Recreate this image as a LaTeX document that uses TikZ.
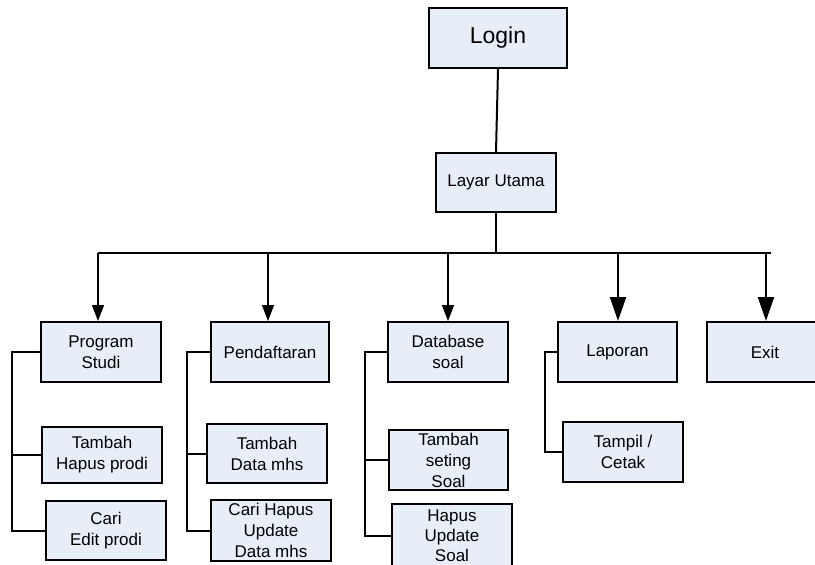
\documentclass[tikz,border=0pt]{standalone}
\usepackage{fontspec}
\setmainfont{Liberation Sans}
\usetikzlibrary{arrows.meta}
\definecolor{boxfill}{RGB}{232,238,248}
\tikzset{
  box/.style={draw=black, line width=2pt, fill=boxfill, inner sep=0pt, align=center,
    font=\fontsize{17}{21}\selectfont},
  conn/.style={line width=2pt},
  thinarrow/.style={line width=1.4pt, -{Triangle[width=12pt,length=16pt]}},
  bigarrow/.style={line width=2pt, -{Triangle[width=16pt,length=24pt]}}
}
\begin{document}
\begin{tikzpicture}[x=1pt,y=-1pt]
\useasboundingbox (0,0) rectangle (815,565);
% top
\node[box, minimum width=138pt, minimum height=60pt, font=\fontsize{23}{27}\selectfont] (login) at (498,38) {Login};
\node[box, minimum width=120pt, minimum height=59pt] (layar) at (496,182.5) {Layar Utama};
% level 1
\node[box, minimum width=120pt, minimum height=60pt] (prog) at (101,352) {Program\\Studi};
\node[box, minimum width=118pt, minimum height=60pt] (pend) at (270,352) {Pendaftaran};
\node[box, minimum width=120pt, minimum height=60pt] (db) at (448,352) {Database\\soal};
\node[box, minimum width=119pt, minimum height=60pt] (lap) at (617.5,352) {Laporan};
\node[box, minimum width=116pt, minimum height=60pt] (exit) at (765,352) {Exit};
% level 2
\node[box, minimum width=120pt, minimum height=56pt] (tp) at (102,455) {Tambah\\Hapus prodi};
\node[box, minimum width=120pt, minimum height=59pt] (cep) at (106,530.5) {Cari\\Edit prodi};
\node[box, minimum width=120pt, minimum height=59pt] (tdm) at (267,453.5) {Tambah\\Data mhs};
\node[box, minimum width=120pt, minimum height=61pt] (chu) at (271,530.5) {Cari Hapus\\Update\\Data mhs};
\node[box, minimum width=119pt, minimum height=60pt] (tss) at (448.5,460) {Tambah\\seting\\Soal};
\node[box, minimum width=120pt, minimum height=64pt, font=\fontsize{17}{20}\selectfont] (hus) at (452,536) {Hapus\\Update\\Soal};
\node[box, minimum width=120pt, minimum height=60pt] (tc) at (623,452) {Tampil /\\Cetak};
% trunk
\coordinate (bus) at (496,253);
\coordinate (b1) at (98,253);
\coordinate (b2) at (268,253);
\coordinate (b3) at (448,253);
\coordinate (b4) at (618,253);
\coordinate (b5) at (766,253);
\coordinate (bend) at (771,253);
\draw[conn] (login.south) -- (layar.north);
\draw[conn] (layar.south) -- (bus);
\draw[conn] (b1) -- (bend);
\draw[thinarrow] (b1) -- (b1 |- prog.north);
\draw[thinarrow] (b2) -- (b2 |- pend.north);
\draw[thinarrow] (b3) -- (b3 |- db.north);
\draw[bigarrow] (b4) -- (b4 |- lap.north);
\draw[bigarrow] (b5) -- (b5 |- exit.north);
% brackets
\coordinate (k1) at (12,0);
\coordinate (k2) at (187,0);
\coordinate (k3) at (365,0);
\coordinate (k4) at (545,0);
\draw[conn] (prog.west) -- (prog.west -| k1) -- (cep.west -| k1) -- (cep.west);
\draw[conn] (tp.west -| k1) -- (tp.west);
\draw[conn] (pend.west) -- (pend.west -| k2) -- (chu.west -| k2) -- (chu.west);
\draw[conn] (tdm.west -| k2) -- (tdm.west);
\draw[conn] (db.west) -- (db.west -| k3) -- (hus.west -| k3) -- (hus.west);
\draw[conn] (tss.west -| k3) -- (tss.west);
\draw[conn] (lap.west) -- (lap.west -| k4) -- (tc.west -| k4) -- (tc.west);
\end{tikzpicture}
\end{document}
